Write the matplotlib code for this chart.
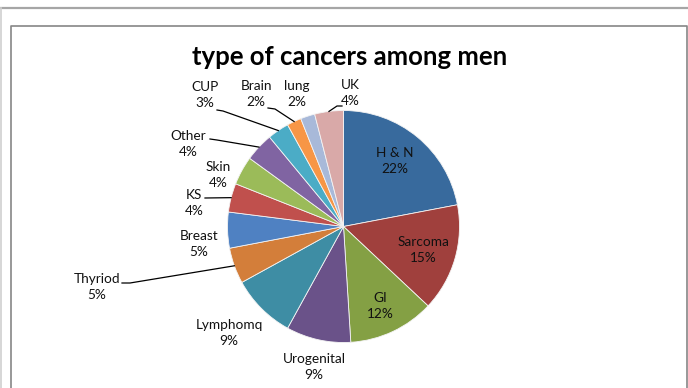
import numpy as np
import matplotlib.pyplot as plt
from matplotlib.lines import Line2D

W, H = 688, 388

# Cancer types, clockwise from 12 o'clock, with their share in percent
labels = ['H & N', 'Sarcoma', 'GI', 'Urogenital', 'Lymphomq', 'Thyriod', 'Breast',
          'KS', 'Skin', 'Other', 'CUP', 'Brain', 'lung', 'UK']
shares = [22, 15, 12, 9, 9, 5, 5, 4, 4, 4, 3, 2, 2, 4]
colors = ['#386a9d', '#a0403d', '#84a044', '#6a5289', '#3e8da4', '#d37e3a', '#4f81c2',
          '#c0504d', '#9bbb59', '#8064a2', '#4bacc6', '#f79646', '#a8b9d9', '#d9a9a8']

# label block centres (pixels from top-left)
label_pos = {
    'H & N': (395, 161), 'Sarcoma': (423, 250), 'GI': (380, 306),
    'Urogenital': (314, 367), 'Lymphomq': (229, 333), 'Thyriod': (97, 287),
    'Breast': (199, 244), 'KS': (194, 203), 'Skin': (218, 175),
    'Other': (188, 144), 'CUP': (205, 95), 'Brain': (256, 94),
    'lung': (297, 94), 'UK': (350, 93),
}
# leader lines: points near the label, the last point is on the slice edge
leaders = {
    'Thyriod': [(122, 283), (130, 283)],
    'KS': [(205, 198)],
    'Other': [(210, 139), (217, 140)],
    'CUP': [(217, 110), (223, 111)],
    'Brain': [(268, 108), (275, 109)],
    'UK': [(342, 106), (337, 106)],
}

CX, CY, R = 343.5, 226.5, 116


def draw():
    fig = plt.figure(figsize=(W / 100, H / 100), dpi=100)
    ax = fig.add_axes([0, 0, 1, 1])

    wedges, _ = ax.pie(shares, colors=colors, startangle=90, counterclock=False,
                       center=(CX, H - CY), radius=R,
                       wedgeprops=dict(edgecolor='#f4f4f4', linewidth=0.6))
    ax.set_xlim(0, W)
    ax.set_ylim(0, H)
    ax.set_aspect('auto')
    ax.axis('off')

    font = ['Lato', 'DejaVu Sans']
    for lab, share, w in zip(labels, shares, wedges):
        x, y = label_pos[lab]
        ax.text(x, H - y, f"{lab}\n{share}%", ha='center', va='center',
                fontsize=9.8, family=font, color='#111111', linespacing=1.42)
        if lab in leaders:
            mid = np.deg2rad((w.theta1 + w.theta2) / 2)
            end = (CX + R * np.cos(mid), H - CY + R * np.sin(mid))
            pts = [(px, H - py) for px, py in leaders[lab]] + [end]
            xs, ys = zip(*pts)
            ax.plot(xs, ys, color='black', linewidth=0.9)

    ax.text(350, H - 57, 'type of cancers among men', ha='center', va='center',
            fontsize=18.5, fontweight='bold', family=font, color='black')

    # outer sheet edge and chart area border
    fig.add_artist(Line2D([0, 1], [1 - 7.5 / H] * 2, color='#a6a6a6', linewidth=1.6))
    fig.add_artist(Line2D([0.6 / W] * 2, [0, 1 - 8 / H], color='#d0d0d0', linewidth=1.2))
    fig.add_artist(Line2D([11.5 / W, 11.5 / W, 686.5 / W, 686.5 / W],
                          [0, 1 - 26 / H, 1 - 26 / H, 0], color='#868686', linewidth=1.2))

    fig.savefig('out.png', dpi=100, facecolor='white')


if __name__ == "__main__":
    draw()
